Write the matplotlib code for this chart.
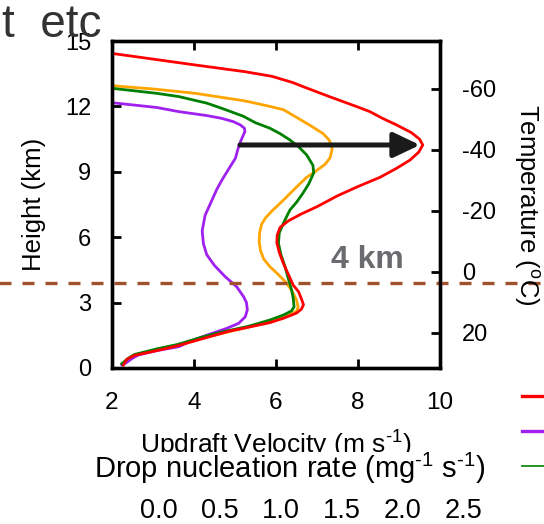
import matplotlib
matplotlib.use("Agg")
import matplotlib.pyplot as plt
from matplotlib.lines import Line2D
from matplotlib.patches import Rectangle

plt.rcParams.update({
    "font.family": "Liberation Sans",
    "mathtext.fontset": "custom",
    "mathtext.rm": "Liberation Sans",
    "mathtext.it": "Liberation Sans:italic",
    "mathtext.bf": "Liberation Sans:bold",
    "mathtext.default": "regular",
    "axes.unicode_minus": False,
})

# updraft velocity profiles (m/s) vs height (km)
red_w = [2.28, 2.36, 2.55, 3.1, 3.6, 4.2, 4.88, 5.25, 5.85, 6.18, 6.5, 6.62, 6.67, 6.63, 6.55,
         6.42, 6.3, 6.18, 6.08, 6.02, 6.03, 6.1, 6.3, 6.6, 7.0, 7.5, 7.97, 8.54, 8.94, 9.27,
         9.48, 9.58, 9.5, 9.3, 8.94, 8.6, 8.29, 7.97, 7.3, 6.67, 6.4, 6.15, 5.9, 5.25, 4.03,
         3.0, 2.0]
red_h = [0.14, 0.40, 0.58, 0.80, 1.02, 1.34, 1.70, 1.84, 2.08, 2.28, 2.52, 2.70, 2.90, 3.12, 3.50,
         3.80, 4.30, 4.80, 5.30, 5.75, 6.10, 6.45, 6.75, 7.05, 7.40, 7.90, 8.30, 8.75, 9.16, 9.54,
         9.90, 10.23, 10.50, 10.80, 11.15, 11.45, 11.76, 11.99, 12.45, 12.90, 13.10, 13.24, 13.38,
         13.59, 13.90, 14.17, 14.43]

green_w = [2.24, 2.4, 2.55, 3.1, 3.6, 4.2, 4.7, 5.3, 5.85, 6.18, 6.38, 6.44, 6.42, 6.38, 6.3,
           6.22, 6.12, 6.06, 6.08, 6.18, 6.34, 6.5, 6.65, 6.8, 6.92, 6.9, 6.75, 6.55, 6.34, 6.1,
           5.85, 5.5, 5.2, 4.68, 4.31, 3.63, 3.09, 2.0]
green_h = [0.20, 0.45, 0.62, 0.88, 1.08, 1.42, 1.66, 1.90, 2.20, 2.43, 2.62, 2.81, 3.20, 3.58, 4.10,
           4.65, 5.20, 5.72, 6.20, 6.64, 7.25, 7.60, 8.00, 8.45, 8.95, 9.30, 9.77, 10.15, 10.46,
           10.75, 11.00, 11.25, 11.55, 11.91, 12.15, 12.45, 12.60, 12.83]

orange_w = [2.26, 2.4, 2.55, 3.1, 3.6, 4.3, 5.25, 5.9, 6.34, 6.5, 6.54, 6.5, 6.4, 6.26, 6.05,
            5.85, 5.7, 5.62, 5.59, 5.6, 5.65, 5.75, 5.9, 6.18, 6.5, 6.75, 6.95, 7.2, 7.32, 7.37,
            7.3, 7.15, 6.9, 6.5, 6.18, 5.85, 5.25, 4.03, 3.0, 2.0]
orange_h = [0.17, 0.42, 0.60, 0.85, 1.05, 1.42, 1.84, 2.15, 2.45, 2.60, 2.80, 3.12, 3.50, 3.89, 4.30,
            4.65, 5.00, 5.40, 5.80, 6.20, 6.60, 6.90, 7.20, 7.70, 8.30, 8.75, 9.00, 9.35, 9.65,
            10.05, 10.45, 10.75, 11.05, 11.50, 11.85, 12.00, 12.25, 12.60, 12.80, 12.95]

purple_w = [2.24, 2.33, 2.5, 2.65, 3.1, 3.63, 3.98, 4.44, 4.8, 5.09, 5.25, 5.3, 5.28, 5.21, 5.04,
            4.76, 4.5, 4.31, 4.23, 4.2, 4.27, 4.44, 4.55, 4.68, 4.88, 5.01, 5.08, 5.16, 5.24,
            5.23, 5.13, 4.96, 4.68, 4.31, 3.63, 3.09, 2.0]
purple_h = [0.14, 0.22, 0.45, 0.60, 0.80, 0.98, 1.28, 1.59, 1.82, 2.05, 2.35, 2.66, 3.00, 3.27, 3.73,
            4.19, 4.70, 5.20, 5.70, 6.30, 7.00, 7.71, 8.17, 8.62, 9.23, 9.62, 10.10, 10.50, 10.84,
            11.00, 11.15, 11.30, 11.45, 11.58, 11.76, 11.95, 12.17]

legend_labels = ["C_PD_UAP", "C_PI", "C_PD"]

arrow_h = 10.23
arrow_from, arrow_to = 5.12, 9.51
freeze_h = 3.9

w_ticks = [2, 4, 6, 8, 10]
h_ticks = [0, 3, 6, 9, 12, 15]
t_ticks = [-60, -40, -20, 0, 20]
drop_ticks = [0.0, 0.5, 1.0, 1.5, 2.0, 2.5]

RED, GREEN, ORANGE, PURPLE = "#ff0000", "#008000", "#ffa500", "#a020f0"

W, H = 544, 524
fx = lambda px: px / W
fy = lambda py: 1 - py / H

fig = plt.figure(figsize=(W / 100, H / 100), dpi=100)
ax = fig.add_axes([fx(112), fy(368), (440 - 112) / W, (368 - 41) / H])

ax.plot(red_w, red_h, color=RED, lw=2, zorder=4)
ax.plot(orange_w, orange_h, color=ORANGE, lw=2, zorder=2)
ax.plot(green_w, green_h, color=GREEN, lw=2, zorder=3)
ax.plot(purple_w, purple_h, color=PURPLE, lw=2, zorder=2)

ax.annotate("", xy=(arrow_to, arrow_h), xytext=(arrow_from, arrow_h),
            arrowprops=dict(arrowstyle="-|>,head_length=0.8,head_width=0.38",
                            lw=3.6, color="#1a1a1a", mutation_scale=20,
                            shrinkA=0, shrinkB=0), zorder=6)

ax.axhline(freeze_h, xmin=-0.345, xmax=1.31, clip_on=False, color="#a0522d",
           lw=2.4, ls=(0, (3.6, 3.3)), zorder=5)
ax.text(8.23, 4.59, "4 km", fontsize=23, fontweight="bold", color="#696b6e",
        ha="center", va="baseline")

ax.set_xlim(2, 10)
ax.set_ylim(0, 15)
ax.set_xticks(w_ticks)
ax.set_yticks(h_ticks)
ax.tick_params(axis="x", direction="in", top=True, length=6.5, width=2,
               labelsize=17.5, pad=17)
ax.tick_params(axis="y", direction="in", right=False, length=6.5, width=2,
               labelsize=17, pad=15)
for s in ax.spines.values():
    s.set_linewidth(2.4)

ax.set_xlabel(r"Updraft Velocity (m s$^{\text{-1}}$)", fontsize=19)
ax.xaxis.set_label_coords(fx(276), fy(454), transform=fig.transFigure)
ax.xaxis.label.set_va("baseline")
ax.set_ylabel("Height (km)", fontsize=18.5, rotation=90)
ax.yaxis.set_label_coords(fx(33.5), fy(204), transform=fig.transFigure)
ax.yaxis.label.set_va("center")

# temperature axis on the right
axt = ax.twinx()
axt.set_ylim(31.5, -75.7)
axt.set_yticks(t_ticks)
axt.tick_params(axis="y", direction="in", length=6.5, width=2, labelsize=17, pad=16)
for s in axt.spines.values():
    s.set_linewidth(2.4)
axt.set_ylabel("Temperature ($^{o}$C)", fontsize=18.5, rotation=-90)
axt.yaxis.set_label_coords(fx(527), fy(205), transform=fig.transFigure)
axt.yaxis.label.set_va("center")

# white strip that the lower panel sits on (clips the updraft label)
fig.add_artist(Rectangle((0, 0), fx(505), fy(452), transform=fig.transFigure,
                         facecolor="white", edgecolor="none", zorder=1))

# lower panel: drop nucleation rate axis
ax2 = fig.add_axes([fx(112), fy(531) - 0.05, (468 - 112) / W, 0.05])
ax2.set_zorder(2)
ax2.patch.set_visible(False)
for s in ax2.spines.values():
    s.set_visible(False)
ax2.set_xlim(-0.387, 2.541)
ax2.set_xticks(drop_ticks)
ax2.set_xticklabels([f"{t:.1f}" for t in drop_ticks])
ax2.set_yticks([])
ax2.xaxis.tick_top()
ax2.tick_params(axis="x", direction="in", length=0, pad=5, labelsize=19.5)
ax2.set_xlabel(r"Drop nucleation rate (mg$^{\text{-1}}$ s$^{\text{-1}}$)", fontsize=21)
ax2.xaxis.set_label_position("top")
ax2.xaxis.set_label_coords(fx(290), fy(478), transform=fig.transFigure)
ax2.xaxis.label.set_va("baseline")

# legend, mostly cut off at the right edge
handles = [Line2D([], [], color=RED, lw=2.4),
           Line2D([], [], color=PURPLE, lw=2.4),
           Line2D([], [], color=GREEN, lw=1.2)]
fig.legend(handles, legend_labels, loc="center left", bbox_to_anchor=(fx(522), fy(432)),
           frameon=False, borderpad=0, borderaxespad=0, handlelength=3,
           fontsize=10, labelspacing=1.5, handletextpad=0.8)

fig.text(fx(2), fy(37), "t  etc", fontsize=33, color="#333333", ha="left",
         va="baseline", zorder=3)

fig.savefig("out.png", dpi=100)
